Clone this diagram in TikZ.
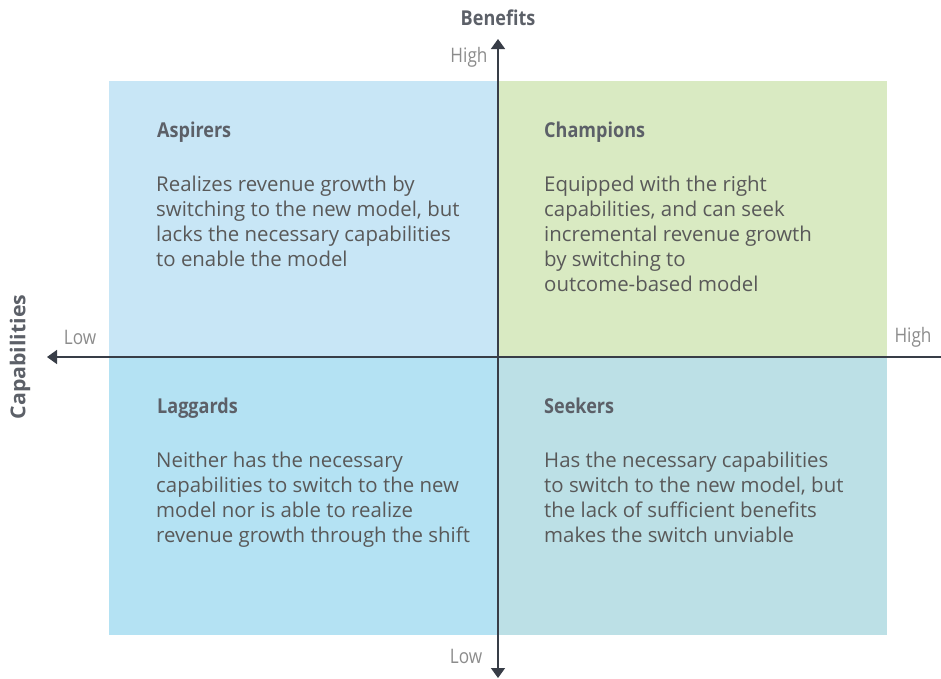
\documentclass[tikz,border=0pt]{standalone}
\usepackage{fontspec}
\setmainfont{Open Sans}
\newfontfamily\condfont[FakeStretch=0.86]{Open Sans}
\newfontfamily\titlefont[FakeStretch=0.88]{Open Sans}
\newfontfamily\captitlefont[FakeStretch=1.04]{Open Sans}
\usetikzlibrary{arrows.meta}
\definecolor{qtl}{HTML}{C8E6F6}
\definecolor{qtr}{HTML}{D9EAC2}
\definecolor{qbl}{HTML}{B4E2F3}
\definecolor{qbr}{HTML}{BCE0E6}
\definecolor{axiscol}{HTML}{383D47}
\definecolor{titlecol}{HTML}{5C6068}
\definecolor{bodycol}{HTML}{595959}
\definecolor{labcol}{HTML}{8C8C8C}
\tikzset{
  quad/.style={draw=none, inner sep=0, minimum width=389pt},
  qtitle/.style={anchor=base west, inner sep=0, text=titlecol, font=\titlefont\bfseries\fontsize{20.5}{25}\selectfont},
  qbody/.style={anchor=base west, inner sep=0, align=left, text=bodycol, font=\fontsize{20.4}{25}\selectfont},
  axislab/.style={inner sep=0, text=labcol, font=\condfont\fontsize{20}{24}\selectfont},
  axistitle/.style={inner sep=0, text=titlecol, font=\titlefont\bfseries\fontsize{20.5}{25}\selectfont},
  axisline/.style={draw=axiscol, line width=1.6pt, -{Triangle[width=14pt,length=10pt]}}
}
\begin{document}
\begin{tikzpicture}[x=1pt,y=-1pt]
\useasboundingbox (0,0) rectangle (941,678);
% quadrants
\node[quad, minimum height=276pt, fill=qtl, anchor=north west] (tl) at (109,81) {};
\node[quad, minimum height=276pt, fill=qtr, anchor=north west] (tr) at (498,81) {};
\node[quad, minimum height=278pt, fill=qbl, anchor=north west] (bl) at (109,357) {};
\node[quad, minimum height=278pt, fill=qbr, anchor=north west] (br) at (498,357) {};
% axes
\coordinate (vbot) at (498,678);
\coordinate (vtop) at (498,39);
\coordinate (hleft) at (47,357);
\coordinate (hright) at (941,357);
\coordinate (center) at (498,357);
\draw[axisline] (center) -- (vtop);
\draw[axisline] (center) -- (vbot);
\draw[axisline] (hright) -- (hleft);
% axis labels
\node[axistitle] (benefits) at (498,18) {Benefits};
\node[axistitle, font=\captitlefont\bfseries\fontsize{20.5}{25}\selectfont, rotate=90] (capab) at (20,357) {Capabilities};
\node[axislab] (bhigh) at (469,57) {High};
\node[axislab] (blow) at (466,656) {Low};
\node[axislab] (clow) at (80,337) {Low};
\node[axislab] (chigh) at (913,337) {High};
% quadrant texts (base anchor = last line baseline)
\node[qtitle] (t1) at (157,137) {Aspirers};
\node[qbody] (b1) at (156,266) {Realizes revenue growth by\\switching to the new model, but\\lacks the necessary capabilities\\to enable the model};
\node[qtitle] (t2) at (544,137) {Champions};
\node[qbody] (b2) at (544,291) {Equipped with the right\\capabilities, and can seek\\incremental revenue growth\\by switching to\\outcome-based model};
\node[qtitle] (t3) at (157,413) {Laggards};
\node[qbody] (b3) at (156,542) {Neither has the necessary\\capabilities to switch to the new\\model nor is able to realize\\revenue growth through the shift};
\node[qtitle] (t4) at (544,413) {Seekers};
\node[qbody] (b4) at (544,542) {Has the necessary capabilities\\to switch to the new model, but\\the lack of sufficient benefits\\makes the switch unviable};
\end{tikzpicture}
\end{document}
